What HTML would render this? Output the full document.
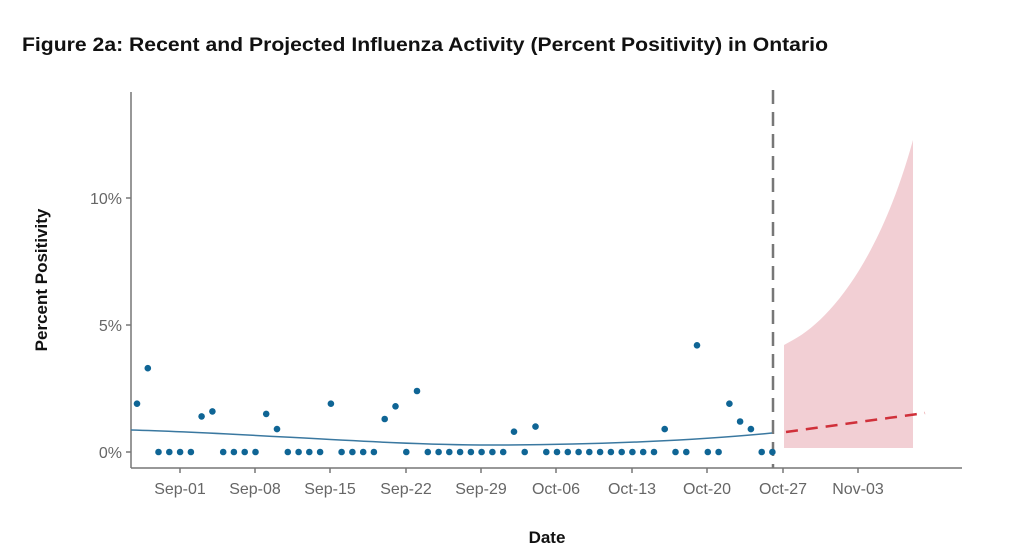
<!DOCTYPE html>
<html><head><meta charset="utf-8"><style>
body{margin:0;background:#fff;}
svg{display:block;font-family:"Liberation Sans",sans-serif;}
</style></head><body>
<svg width="1024" height="549" viewBox="0 0 1024 549">
<text x="22" y="51" font-size="19" font-weight="bold" fill="#111" textLength="806" lengthAdjust="spacingAndGlyphs">Figure 2a: Recent and Projected Influenza Activity (Percent Positivity) in Ontario</text>
<path d="M784,345 L793,340 C830,320 880,260 913,140 L913,448 L784,448 Z" fill="#f2cfd4"/>
<line x1="131" y1="92" x2="131" y2="468" stroke="#777" stroke-width="1.5"/>
<line x1="131" y1="468" x2="962" y2="468" stroke="#777" stroke-width="1.5"/>
<g stroke="#777" stroke-width="1.5">
<line x1="126" y1="198" x2="131" y2="198"/><line x1="126" y1="325" x2="131" y2="325"/><line x1="126" y1="452" x2="131" y2="452"/>
<line x1="180" y1="468" x2="180" y2="473"/><line x1="255" y1="468" x2="255" y2="473"/><line x1="330" y1="468" x2="330" y2="473"/><line x1="406" y1="468" x2="406" y2="473"/><line x1="481" y1="468" x2="481" y2="473"/><line x1="556" y1="468" x2="556" y2="473"/><line x1="632" y1="468" x2="632" y2="473"/><line x1="707" y1="468" x2="707" y2="473"/><line x1="783" y1="468" x2="783" y2="473"/><line x1="858" y1="468" x2="858" y2="473"/>
</g>
<g font-size="16" fill="#666" text-anchor="end">
<text x="122" y="204">10%</text><text x="122" y="331">5%</text><text x="122" y="458">0%</text>
</g>
<g font-size="16" fill="#666" text-anchor="middle">
<text x="180" y="494">Sep-01</text><text x="255" y="494">Sep-08</text><text x="330" y="494">Sep-15</text><text x="406" y="494">Sep-22</text><text x="481" y="494">Sep-29</text><text x="556" y="494">Oct-06</text><text x="632" y="494">Oct-13</text><text x="707" y="494">Oct-20</text><text x="783" y="494">Oct-27</text><text x="858" y="494">Nov-03</text>
</g>
<text x="547" y="543" font-size="17" font-weight="bold" fill="#111" text-anchor="middle">Date</text>
<text transform="translate(47,280) rotate(-90)" font-size="17" font-weight="bold" fill="#111" text-anchor="middle">Percent Positivity</text>
<line x1="773" y1="90" x2="773" y2="468" stroke="#777" stroke-width="2.5" stroke-dasharray="14,8"/>
<path d="M131,430 C250,433 380,445 490,445 C600,445 700,440 772,433" fill="none" stroke="#3a78a0" stroke-width="1.5"/>
<path d="M786,432 L925,413" fill="none" stroke="#d0303a" stroke-width="2.5" stroke-dasharray="12,8"/>
<g fill="#0f6595">
<circle cx="137.0" cy="403.7" r="3.3"/><circle cx="147.8" cy="368.2" r="3.3"/><circle cx="158.5" cy="452" r="3.3"/><circle cx="169.3" cy="452" r="3.3"/><circle cx="180.1" cy="452" r="3.3"/><circle cx="190.9" cy="452" r="3.3"/>
<circle cx="201.6" cy="416.4" r="3.3"/><circle cx="212.4" cy="411.4" r="3.3"/><circle cx="223.2" cy="452" r="3.3"/><circle cx="233.9" cy="452" r="3.3"/><circle cx="244.7" cy="452" r="3.3"/><circle cx="255.5" cy="452" r="3.3"/>
<circle cx="266.2" cy="413.9" r="3.3"/><circle cx="277.0" cy="429.1" r="3.3"/><circle cx="287.8" cy="452" r="3.3"/><circle cx="298.6" cy="452" r="3.3"/><circle cx="309.3" cy="452" r="3.3"/><circle cx="320.1" cy="452" r="3.3"/>
<circle cx="330.9" cy="403.7" r="3.3"/><circle cx="341.6" cy="452" r="3.3"/><circle cx="352.4" cy="452" r="3.3"/><circle cx="363.2" cy="452" r="3.3"/><circle cx="373.9" cy="452" r="3.3"/>
<circle cx="384.7" cy="419.0" r="3.3"/><circle cx="395.5" cy="406.3" r="3.3"/><circle cx="406.3" cy="452" r="3.3"/><circle cx="417.0" cy="391.0" r="3.3"/>
<circle cx="427.8" cy="452" r="3.3"/><circle cx="438.6" cy="452" r="3.3"/><circle cx="449.3" cy="452" r="3.3"/><circle cx="460.1" cy="452" r="3.3"/><circle cx="470.9" cy="452" r="3.3"/><circle cx="481.6" cy="452" r="3.3"/><circle cx="492.4" cy="452" r="3.3"/><circle cx="503.2" cy="452" r="3.3"/>
<circle cx="514.0" cy="431.7" r="3.3"/><circle cx="524.7" cy="452" r="3.3"/><circle cx="535.5" cy="426.6" r="3.3"/>
<circle cx="546.3" cy="452" r="3.3"/><circle cx="557.0" cy="452" r="3.3"/><circle cx="567.8" cy="452" r="3.3"/><circle cx="578.6" cy="452" r="3.3"/><circle cx="589.3" cy="452" r="3.3"/><circle cx="600.1" cy="452" r="3.3"/><circle cx="610.9" cy="452" r="3.3"/><circle cx="621.7" cy="452" r="3.3"/><circle cx="632.4" cy="452" r="3.3"/><circle cx="643.2" cy="452" r="3.3"/><circle cx="654.0" cy="452" r="3.3"/>
<circle cx="664.7" cy="429.1" r="3.3"/><circle cx="675.5" cy="452" r="3.3"/><circle cx="686.3" cy="452" r="3.3"/><circle cx="697.0" cy="345.3" r="3.3"/><circle cx="707.8" cy="452" r="3.3"/><circle cx="718.6" cy="452" r="3.3"/>
<circle cx="729.4" cy="403.7" r="3.3"/><circle cx="740.1" cy="421.5" r="3.3"/><circle cx="750.9" cy="429.1" r="3.3"/><circle cx="761.7" cy="452" r="3.3"/><circle cx="772.4" cy="452" r="3.3"/>
</g>
</svg>
</body></html>
